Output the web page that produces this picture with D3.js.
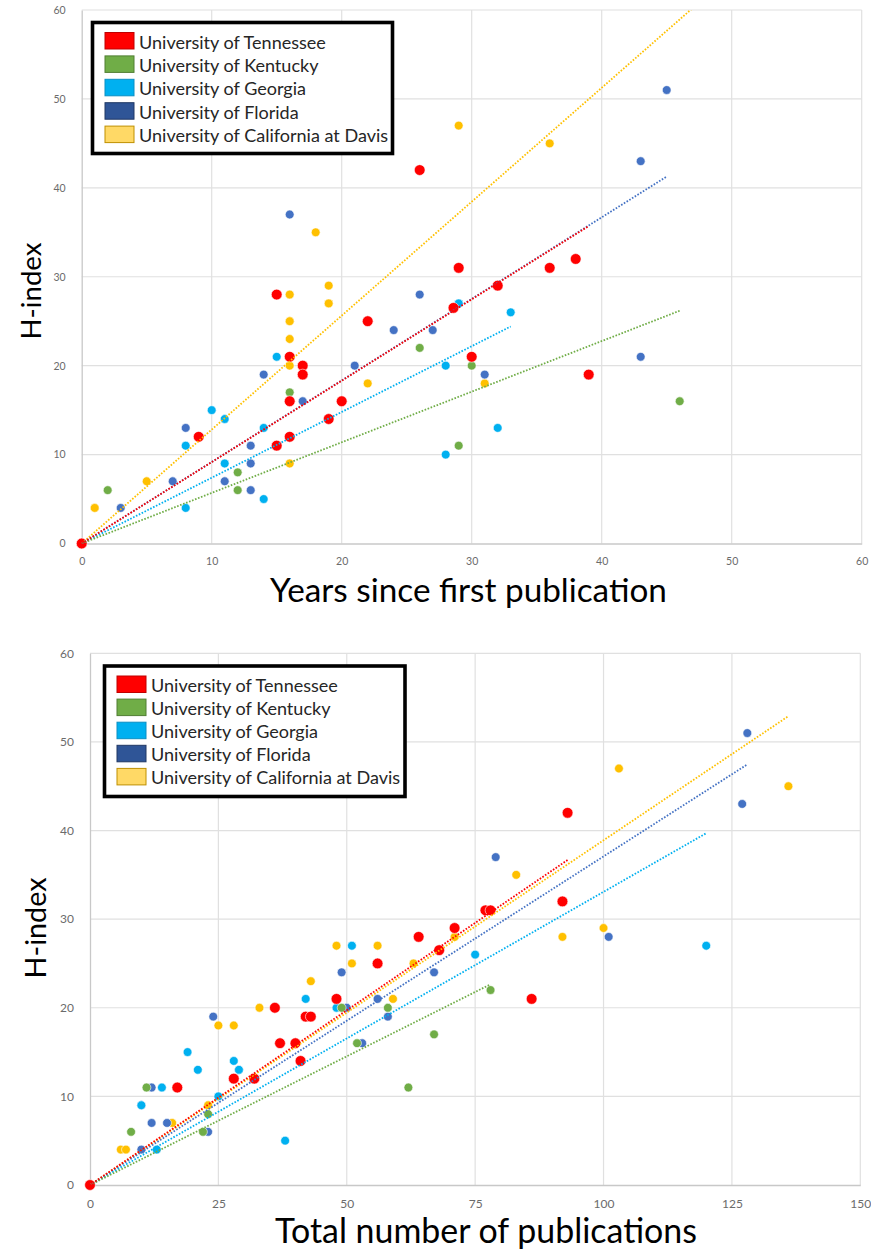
<!DOCTYPE html>
<html lang="en">
<meta charset="UTF-8">
<title>H-index vs career length and publications</title>
<script src="https://d3js.org/d3.v7.min.js"></script>
<style>
  body { margin: 0; background: #fff; }
  svg text { font-family: "Lato", "Open Sans", sans-serif; }
</style>
<body>
<div id="chart"></div>
<script>
// universities, in legend order
var universities = ["University of Tennessee", "University of Kentucky", "University of Georgia",
                    "University of Florida", "University of California at Davis"];

// top chart: [years since first publication, h-index]
var tennesseeYears = [[0,0],[9,12],[15,28],[15,11],[16,21],[16,16],[16,12],[17,20],[17,19],[19,14],[20,16],
  [22,25],[26,42],[28.6,26.5],[29,31],[30,21],[32,29],[36,31],[38,32],[39,19]];
var kentuckyYears = [[2,6],[12,8],[12,6],[15,11],[16,17],[17,20],[26,22],[29,11],[30,20],[46,16]];
var georgiaYears = [[8,11],[8,4],[10,15],[11,14],[11,9],[14,13],[14,5],[15,21],[28,20],[28,10],[29,27],[29,27],
  [32,13],[33,26]];
var floridaYears = [[3,4],[7,7],[8,13],[11,7],[13,11],[13,9],[13,6],[14,19],[16,37],[17,16],[21,20],[24,24],
  [26,28],[27,24],[31,19],[43,43],[43,21],[45,51]];
var davisYears = [[1,4],[1,4],[5,7],[16,28],[16,28],[16,25],[16,25],[16,23],[16,21],[16,20],[16,9],[18,35],
  [19,29],[19,27],[19,27],[22,18],[29,47],[31,18],[36,45]];

// bottom chart: [total number of publications, h-index]
var tennesseePubs = [[0,0],[17,11],[28,12],[32,12],[36,20],[37,16],[40,16],[41,14],[42,19],[43,19],[48,21],
  [56,25],[64,28],[68,26.5],[71,29],[77,31],[78,31],[86,21],[92,32],[93,42]];
var kentuckyPubs = [[8,6],[11,11],[22,6],[23,8],[49,20],[52,16],[58,20],[62,11],[67,17],[78,22]];
var georgiaPubs = [[10,9],[13,4],[14,11],[19,15],[21,13],[25,10],[28,14],[29,13],[38,5],[42,21],[48,20],
  [51,27],[75,26],[120,27]];
var floridaPubs = [[10,4],[10,9],[12,11],[12,7],[15,7],[23,6],[24,19],[29,13],[49,24],[50,20],[53,16],[56,21],
  [58,19],[67,24],[79,37],[101,28],[127,43],[128,51]];
var davisPubs = [[6,4],[7,4],[16,7],[23,9],[25,18],[28,18],[33,20],[43,23],[48,27],[51,25],[56,27],[59,21],
  [63,25],[71,28],[83,35],[92,28],[100,29],[103,47],[136,45]];

// axis ticks
var yearTicks = [0, 10, 20, 30, 40, 50, 60];
var pubTicks = [0, 25, 50, 75, 100, 125, 150];
var hTicks = [0, 10, 20, 30, 40, 50, 60];

// trendline forecast forward (top chart, UC Davis line runs past its last point)
var topTrendForward = [0, 0, 0, 0, 11];

// colours
var dotColor = ["#ff0000", "#70ad47", "#00b0f0", "#4472c4", "#ffc000"];
var swatchColor = ["#ff0000", "#70ad47", "#00b0f0", "#2f5597", "#ffd966"];
var swatchStroke = ["#c00000", "#507e32", "#0a8fc4", "#203864", "#bf9000"];

var svg = d3.select("#chart").append("svg")
  .attr("width", 871).attr("height", 1251);
svg.append("rect").attr("width", 871).attr("height", 1251).attr("fill", "#fff");

function fitFont(sel, width) {
  var fs = parseFloat(sel.attr("font-size"));
  var w = sel.node().getComputedTextLength();
  var nfs = fs * width / w;
  sel.attr("font-size", nfs);
  return nfs;
}

function drawChart(o) {
  var x = d3.scaleLinear().domain([0, o.xTicks[o.xTicks.length - 1]]).range([o.left, o.right]);
  var y = d3.scaleLinear().domain([0, 60]).range([o.bottom, o.top]);
  var g = svg.append("g");

  var clipId = "clip" + o.id;
  g.append("clipPath").attr("id", clipId).append("rect")
    .attr("x", o.left).attr("y", o.top)
    .attr("width", o.right - o.left).attr("height", o.bottom - o.top);

  // gridlines
  g.append("g").selectAll("line").data(o.xTicks.slice(1)).enter().append("line")
    .attr("x1", function(d) { return x(d); }).attr("x2", function(d) { return x(d); })
    .attr("y1", o.top).attr("y2", o.bottom)
    .attr("stroke", "#e0e0e0").attr("stroke-width", 1.2);
  g.append("g").selectAll("line").data(hTicks.slice(1)).enter().append("line")
    .attr("y1", function(d) { return y(d); }).attr("y2", function(d) { return y(d); })
    .attr("x1", o.left).attr("x2", o.right)
    .attr("stroke", "#e0e0e0").attr("stroke-width", 1.2);

  // axes
  var xAxis = g.append("g").attr("transform", "translate(0," + o.bottom + ")")
    .call(d3.axisBottom(x).tickValues(o.xTicks).tickSize(0).tickPadding(o.tickPad));
  var yAxis = g.append("g").attr("transform", "translate(" + o.left + ",0)")
    .call(d3.axisLeft(y).tickValues(hTicks).tickSize(0).tickPadding(o.tickPad + 2));
  [xAxis, yAxis].forEach(function(a) {
    a.select(".domain").attr("stroke", "#c8c8c8").attr("stroke-width", 1.3);
    a.selectAll("text").attr("fill", "#6b6b6b").attr("font-size", o.tickSize)
      .style("font-family", "Lato, sans-serif");
  });

  // dots, Davis first so Tennessee ends on top
  var order = [4, 3, 2, 1, 0];
  var dots = g.append("g");
  order.forEach(function(i) {
    dots.append("g").selectAll("circle").data(o.series[i]).enter().append("circle")
      .attr("cx", function(d) { return x(d[0]); })
      .attr("cy", function(d) { return y(d[1]); })
      .attr("r", i === 0 ? 5.4 : 4.4)
      .attr("fill", dotColor[i])
      .attr("stroke", "#fff").attr("stroke-width", 0.6);
  });

  // linear trendlines through the origin (least squares)
  var trends = g.append("g").attr("clip-path", "url(#" + clipId + ")");
  order.forEach(function(i) {
    var pts = o.series[i];
    var slope = d3.sum(pts, function(d) { return d[0] * d[1]; }) /
                d3.sum(pts, function(d) { return d[0] * d[0]; });
    var xEnd = d3.max(pts, function(d) { return d[0]; }) + o.forward[i];
    trends.append("line")
      .attr("x1", x(0)).attr("y1", y(0))
      .attr("x2", x(xEnd)).attr("y2", y(slope * xEnd))
      .attr("stroke", dotColor[i]).attr("stroke-width", 1.8)
      .attr("stroke-dasharray", "1.6,1.6");
  });

  // axis titles
  var xt = g.append("text").attr("x", o.xTitle[0]).attr("y", o.xTitle[1])
    .attr("text-anchor", "middle").attr("font-size", 32).attr("fill", "#000")
    .text(o.xLabel);
  fitFont(xt, o.xTitle[2]);
  var yt = g.append("text")
    .attr("transform", "translate(" + o.yTitle[0] + "," + o.yTitle[1] + ") rotate(-90)")
    .attr("text-anchor", "middle").attr("font-size", 30).attr("fill", "#000")
    .text("H-index");
  fitFont(yt, o.yTitle[2]);

  // legend
  var L = o.legend;
  var leg = g.append("g");
  leg.append("rect").attr("x", L.x).attr("y", L.y).attr("width", L.w).attr("height", L.h)
    .attr("fill", "#fff").attr("stroke", "#000").attr("stroke-width", 3.6);
  var rows = leg.selectAll("g.row").data(universities).enter().append("g")
    .attr("transform", function(d, i) { return "translate(0," + (i * L.step) + ")"; });
  rows.append("rect").attr("x", L.sx).attr("y", L.sy).attr("width", 29).attr("height", 16.5)
    .attr("fill", function(d, i) { return swatchColor[i]; })
    .attr("stroke", function(d, i) { return swatchStroke[i]; }).attr("stroke-width", 1);
  var labels = rows.append("text").attr("x", L.tx).attr("y", L.ty)
    .attr("font-size", 18).attr("fill", "#262626").text(function(d) { return d; });
  var fs = fitFont(d3.select(labels.nodes()[0]), 187);
  labels.attr("font-size", fs);
}

drawChart({
  id: "top", left: 81.7, right: 861.7, top: 10, bottom: 543.5,
  xTicks: yearTicks, tickSize: 10.5, tickPad: 14,
  series: [tennesseeYears, kentuckyYears, georgiaYears, floridaYears, davisYears],
  forward: topTrendForward,
  xLabel: "Years since first publication", xTitle: [468.5, 602, 397],
  yTitle: [41, 291, 97],
  legend: { x: 92.5, y: 22.5, w: 300, h: 131, step: 23.4, sx: 105, sy: 32.5, tx: 139, ty: 48.5 }
});

drawChart({
  id: "bottom", left: 90, right: 860.3, top: 653.3, bottom: 1185,
  xTicks: pubTicks, tickSize: 12, tickPad: 14,
  series: [tennesseePubs, kentuckyPubs, georgiaPubs, floridaPubs, davisPubs],
  forward: [0, 0, 0, 0, 0],
  xLabel: "Total number of publications", xTitle: [486, 1243, 422],
  yTitle: [46, 928, 101],
  legend: { x: 104.5, y: 666, w: 300.5, h: 130.5, step: 23.1, sx: 117, sy: 676, tx: 151, ty: 692 }
});
</script>
</body>
</html>
